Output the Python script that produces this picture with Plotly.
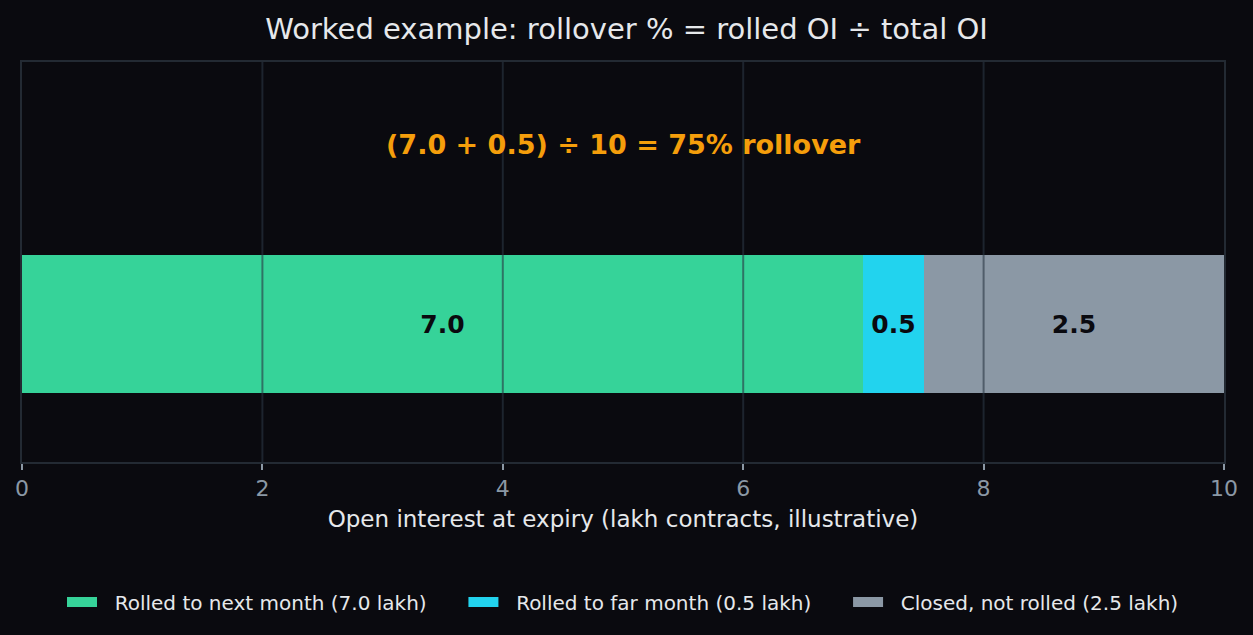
import plotly.graph_objects as go

# illustrative OI split at expiry, in lakh contracts
segments = ["Rolled to next month", "Rolled to far month", "Closed, not rolled"]
oi_lakh = [7.0, 0.5, 2.5]
seg_colors = ["#36d399", "#22d3ee", "#8b98a5"]
x_ticks = [0, 2, 4, 6, 8, 10]

total_oi = sum(oi_lakh)
rolled_pct = (oi_lakh[0] + oi_lakh[1]) / total_oi * 100

BG = "#0a0a0f"
FONT = "DejaVu Sans"
GRID = "rgba(42,54,66,0.6)"
NB = "\u00a0"  # non-breaking space, used to pad legend labels

fig = go.Figure()
for name, val, col in zip(segments, oi_lakh, seg_colors):
    fig.add_trace(go.Bar(
        x=[val], y=[0], orientation="h", width=0.5,
        name=name, showlegend=False,
        marker=dict(color=col, line=dict(width=0)),
        text=[f"{val:.1f}"], textposition="inside", insidetextanchor="middle",
        textfont=dict(family=FONT, size=25, color="#0a0a0f", weight="bold"),
        hoverinfo="skip",
    ))

# legend entries: thick line swatches to mimic the wide colour patches
for i, (name, val, col) in enumerate(zip(segments, oi_lakh, seg_colors)):
    label = NB * 2 + f"{name} ({val:.1f} lakh)" + (NB * 5 if i < len(segments) - 1 else "")
    fig.add_trace(go.Scatter(
        x=[None], y=[None], mode="lines",
        line=dict(color=col, width=14),
        name=label, hoverinfo="skip",
    ))

# grid lines drawn on top of the bars
for t in x_ticks[1:-1]:
    fig.add_shape(type="line", xref="x", yref="paper", x0=t, x1=t, y0=0, y1=1,
                  line=dict(color=GRID, width=2), layer="above")

fig.add_annotation(
    x=5, y=0.65, xref="x", yref="y", showarrow=False,
    text=f"({oi_lakh[0]:.1f} + {oi_lakh[1]:.1f}) ÷ {total_oi:.0f} = {rolled_pct:.0f}% rollover",
    font=dict(family=FONT, size=27, color="#f59e0b", weight="bold"),
)

fig.update_layout(
    barmode="stack",
    width=1253, height=635,
    paper_bgcolor=BG, plot_bgcolor=BG,
    margin=dict(l=22, r=29, t=62, b=173),
    font=dict(family=FONT, color="#e6e8eb"),
    title=dict(text="Worked example: rollover % = rolled OI ÷ total OI",
               x=0.5, xanchor="center", y=0.955, yanchor="middle",
               font=dict(family=FONT, size=29, color="#e6e8eb")),
    showlegend=True,
    legend=dict(orientation="h", x=0.5, xanchor="center", y=-0.35, yanchor="middle",
                font=dict(family=FONT, size=20, color="#e6e8eb"),
                bgcolor="rgba(0,0,0,0)", traceorder="normal"),
    bargap=0,
)

fig.update_xaxes(
    range=[0, 10], tickvals=x_ticks, ticktext=[str(t) for t in x_ticks],
    showgrid=False, zeroline=False,
    showline=True, linecolor="#232a33", linewidth=2, mirror=True,
    ticks="outside", ticklen=6, tickwidth=2, tickcolor="#8b98a5",
    tickfont=dict(family=FONT, size=22, color="#8b98a5"),
    title=dict(text="Open interest at expiry (lakh contracts, illustrative)",
               font=dict(family=FONT, size=23, color="#e6e8eb"), standoff=10),
)
fig.update_yaxes(
    range=[-0.5, 0.95], showticklabels=False, showgrid=False, zeroline=False,
    showline=True, linecolor="#232a33", linewidth=2, mirror=True, ticks="",
)

fig.write_html(
    "out.html",
    config={"displayModeBar": False},
    post_script="document.body.style.margin='0';document.body.style.background='%s';" % BG,
)
